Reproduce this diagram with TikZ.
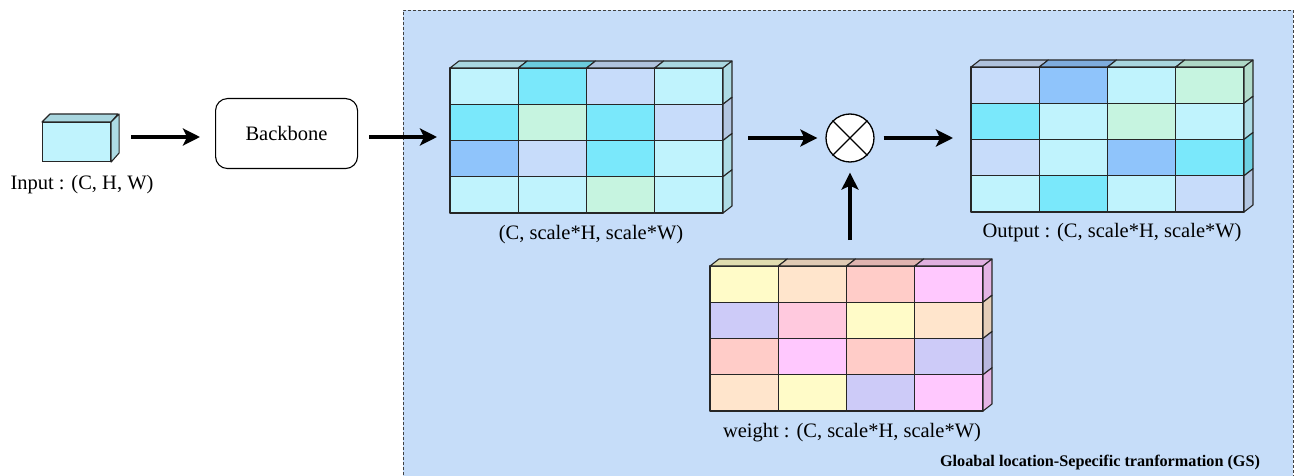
\documentclass[tikz,border=0pt]{standalone}
\usepackage{fontspec}
\setmainfont{Liberation Serif}
\usetikzlibrary{arrows.meta}
\definecolor{bgblue}{HTML}{C6DDF9}
\definecolor{lc}{HTML}{C0F3FD}
\definecolor{cy}{HTML}{7AE8FB}
\definecolor{lb}{HTML}{C7DCFA}
\definecolor{bl}{HTML}{8FC4FB}
\definecolor{mi}{HTML}{C6F4E0}
\definecolor{ye}{HTML}{FFFBC8}
\definecolor{pe}{HTML}{FFE5CC}
\definecolor{sa}{HTML}{FFCCC8}
\definecolor{mg}{HTML}{FFC8FE}
\definecolor{la}{HTML}{CDCBF8}
\definecolor{pk}{HTML}{FFC9DE}
\tikzset{
  x=1pt, y=-1pt,
  txt/.style={font=\fontsize{20.5}{24}\selectfont, inner sep=0pt},
  arr/.style={line width=3.5pt, -{Stealth[length=17pt,width=17pt,inset=4pt]}},
  cellline/.style={draw=black!85, line width=1.1pt, line join=round},
  frame/.style={minimum width=273pt, minimum height=145pt, inner sep=0pt},
}
\newcommand\cw{68.25}
\newcommand\ch{36.25}
\newcommand\cubegrid[3]{%
  \foreach \row [count=\r from 0] in {#3} {
    \foreach \cc [count=\c from 0] in \row {
      \pgfmathsetmacro\xa{#1+\c*\cw}
      \pgfmathsetmacro\ya{#2+\r*\ch}
      \filldraw[fill=\cc, cellline] (\xa,\ya) rectangle ++(\cw,\ch);
      \ifnum\r=0
        \filldraw[fill=\cc!88!black, cellline] (\xa,\ya) -- ++(9,-7) -- ++(\cw,0) -- ++(-9,7) -- cycle;
      \fi
      \ifnum\c=3
        \filldraw[fill=\cc!90!black, cellline] (\xa+\cw,\ya) -- ++(9,-7) -- ++(0,\ch) -- ++(-9,7) -- cycle;
      \fi
    }
  }%
}
\begin{document}
\begin{tikzpicture}
\useasboundingbox (0,0) rectangle (1307,476);
% GS region
\fill[bgblue] (403,10) rectangle (1293,490);
\draw[black!75, line width=0.9pt, dash pattern=on 3pt off 2pt] (403,490) -- (403,10) -- (1293,10) -- (1293,490);

% input cube
\node[draw=black!85, line width=1.1pt, fill=lc, minimum width=68pt, minimum height=39pt, inner sep=0pt, anchor=north west] (inp) at (42,122) {};
\filldraw[fill=lc!88!black, cellline] (inp.north west) -- ++(8,-8) -- ++(68,0) -- (inp.north east) -- cycle;
\filldraw[fill=lc!90!black, cellline] (inp.north east) -- ++(8,-8) -- ++(0,39) -- (inp.south east) -- cycle;
\node[txt] (inplab) at (82,185) {Input : (C, H, W)};

% backbone
\node[draw=black, line width=1.1pt, rounded corners=12pt, minimum width=142pt, minimum height=70pt, txt, anchor=north west] (bb) at (215,98) {};
\node[txt] (bbtext) at (bb.center) {Backbone};
\coordinate (ay) at (0,137);

% grids
\cubegrid{450}{68}{{lc,cy,lb,lc},{cy,mi,cy,lb},{bl,lb,cy,lc},{lc,lc,mi,lc}}
\node[frame, anchor=north west] (g1) at (450,68) {};
\node[txt] (g1lab) at (591,235) {(C, scale*H, scale*W)};

\cubegrid{971}{67}{{lb,bl,lc,mi},{cy,lc,mi,lc},{lb,lc,bl,cy},{lc,cy,lc,lb}}
\node[frame, anchor=north west] (out) at (971,67) {};
\node[txt] (outlab) at (1112,233) {Output : (C, scale*H, scale*W)};

\cubegrid{710}{266}{{ye,pe,sa,mg},{la,pk,ye,pe},{sa,mg,sa,la},{pe,ye,la,mg}}
\node[frame, anchor=north west] (wt) at (710,266) {};
\node[txt] (wtlab) at (852,433) {weight : (C, scale*H, scale*W)};

% multiply
\node[circle, draw=black, line width=1.3pt, fill=white, minimum size=48pt, inner sep=0pt] (mul) at (850,138) {};
\draw[line width=1.1pt] (mul.north west) -- (mul.south east);
\draw[line width=1.1pt] (mul.north east) -- (mul.south west);

% arrows
\draw[arr, shorten <=20pt, shorten >=15pt] (inp.east |- ay) -- (bb.west |- ay);
\draw[arr, shorten <=11pt, shorten >=13pt] (bb.east |- ay) -- (g1.west |- ay);
\draw[arr, shorten <=25pt, shorten >=8pt] (g1.east |- mul.west) -- (mul.west);
\draw[arr, shorten <=9pt, shorten >=18pt] (mul.east) -- (out.west |- mul.east);
\draw[arr, shorten <=26pt, shorten >=10pt] (mul.south |- wt.north) -- (mul.south);

\node[font=\bfseries\fontsize{16.2}{19}\selectfont, inner sep=0pt] (gs) at (1100,463) {Gloabal location-Sepecific tranformation (GS)};
\end{tikzpicture}
\end{document}
